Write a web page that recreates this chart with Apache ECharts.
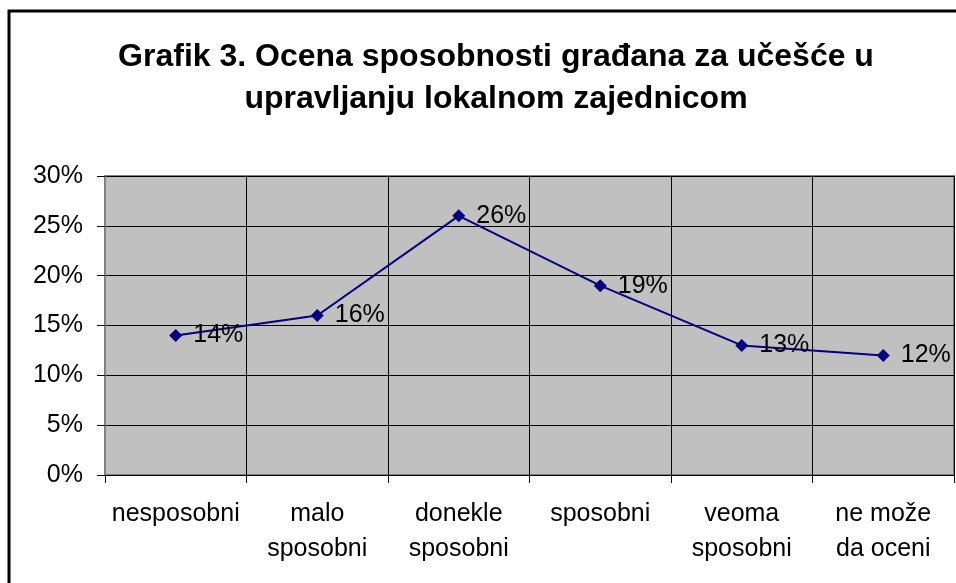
<!DOCTYPE html>
<html>
<head>
<meta charset="utf-8">
<script src="https://cdn.jsdelivr.net/npm/echarts@6/dist/echarts.min.js"></script>
<style>
html,body{margin:0;padding:0;background:#fff;}
#main{width:956px;height:583px;}
</style>
</head>
<body>
<div id="main"></div>
<script>
const titleText = 'Grafik 3. Ocena sposobnosti građana za učešće u\nupravljanju lokalnom zajednicom';
const categories = ['nesposobni', 'malo\nsposobni', 'donekle\nsposobni', 'sposobni', 'veoma\nsposobni', 'ne može\nda oceni'];
const values = [14, 16, 26, 19, 13, 12];
const yTicks = [0, 5, 10, 15, 20, 25, 30];

const chart = echarts.init(document.getElementById('main'), null, {renderer: 'canvas'});
const font = 'Liberation Sans, Arial, sans-serif';
chart.setOption({
  animation: false,
  backgroundColor: '#ffffff',
  title: {
    text: titleText,
    left: 491,
    textAlign: 'center',
    top: 31,
    textStyle: {fontFamily: font, fontWeight: 'bold', fontSize: 32, color: '#000', lineHeight: 42}
  },
  graphic: [{
    type: 'rect',
    shape: {x: 9, y: 11, width: 1200, height: 1200},
    style: {fill: 'none', stroke: '#000', lineWidth: 3},
    silent: true
  }],
  grid: {left: 105, right: 2, top: 176, bottom: 108, show: true, backgroundColor: '#c0c0c0', borderColor: '#808080', borderWidth: 2},
  xAxis: {
    type: 'category',
    data: categories,
    boundaryGap: true,
    axisLine: {show: true, lineStyle: {color: '#000', width: 1}},
    axisTick: {show: true, length: 8, lineStyle: {color: '#000'}},
    splitLine: {show: true, lineStyle: {color: '#000', width: 1}},
    axisLabel: {fontFamily: font, fontSize: 25, color: '#000', margin: 22, lineHeight: 35, interval: 0}
  },
  yAxis: {
    type: 'value',
    min: yTicks[0],
    max: yTicks[yTicks.length - 1],
    interval: 5,
    axisLine: {show: true, lineStyle: {color: '#808080', width: 2}},
    axisTick: {show: true, length: 8, lineStyle: {color: '#000'}},
    splitLine: {show: true, lineStyle: {color: '#000', width: 1}},
    axisLabel: {fontFamily: font, fontSize: 25, color: '#000', margin: 22, formatter: v => v + '%'}
  },
  series: [{
    type: 'line',
    data: values,
    symbol: 'diamond',
    symbolSize: 13,
    lineStyle: {color: '#000080', width: 2},
    itemStyle: {color: '#000080'},
    label: {show: true, position: 'right', distance: 11, fontFamily: font, fontSize: 25, color: '#000', formatter: p => p.value + '%'}
  }]
});
</script>
</body>
</html>
